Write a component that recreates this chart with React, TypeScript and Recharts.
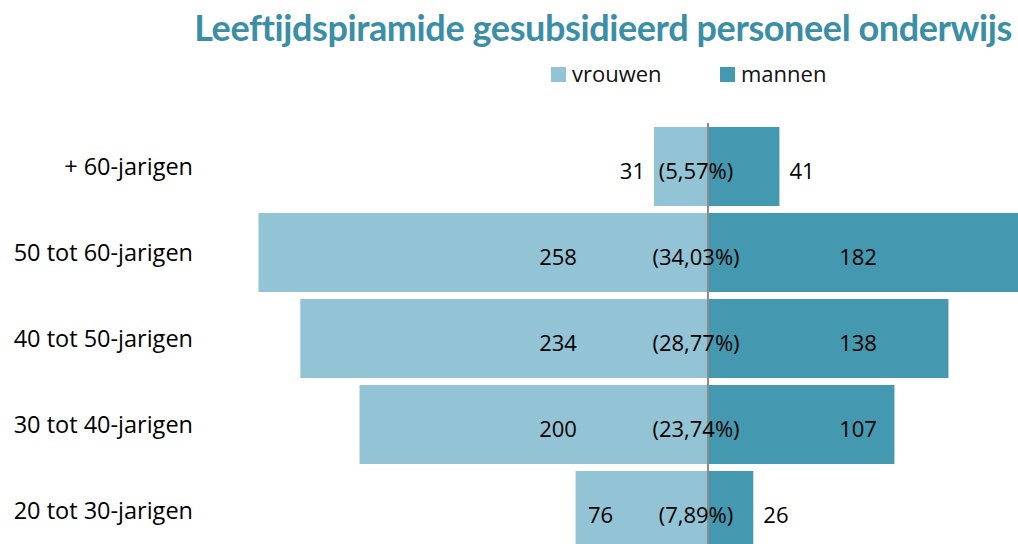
import { BarChart, Bar, XAxis, YAxis, ReferenceLine, LabelList } from "recharts";

const categories = [
  "+ 60-jarigen",
  "50 tot 60-jarigen",
  "40 tot 50-jarigen",
  "30 tot 40-jarigen",
  "20 tot 30-jarigen",
];
const vrouwen = [31, 258, 234, 200, 76];
const mannen = [41, 182, 138, 107, 26];

const series = [
  { key: "vrouwen", color: "#93C4D5" },
  { key: "mannen", color: "#4499B0" },
];

const total = [...vrouwen, ...mannen].reduce((a, b) => a + b, 0);

const data = categories.map((name, i) => ({
  name,
  vrouwen: -vrouwen[i],
  mannen: mannen[i],
  pct: "(" + (((vrouwen[i] + mannen[i]) / total) * 100).toFixed(2).replace(".", ",") + "%)",
}));

const FONT = "'Open Sans', sans-serif";

// value label: outside the bar when it is short, otherwise a bit in from the axis
const SideLabel = (props: any) => {
  const { x, y, width, height, value } = props;
  const left = Math.min(x, x + width);
  const right = Math.max(x, x + width);
  const w = right - left;
  const neg = value < 0;
  const ty = y + height / 2 + 12;
  let tx: number;
  let anchor: "start" | "end" | "middle" = "middle";
  if (w < 80) {
    tx = neg ? left - 9 : right + 10;
    anchor = neg ? "end" : "start";
  } else {
    const off = Math.min(w - 25, 150);
    tx = neg ? right - off : left + off;
  }
  return (
    <text x={tx} y={ty} textAnchor={anchor} fontFamily={FONT} fontSize={22} fill="#000">
      {Math.abs(value)}
    </text>
  );
};

const PctLabel = (props: any) => {
  const { x, y, width, height, value } = props;
  const axis = Math.min(x, x + width);
  return (
    <text x={axis - 12} y={y + height / 2 + 12} textAnchor="middle" fontFamily={FONT} fontSize={22} fill="#000">
      {value}
    </text>
  );
};

const CategoryTick = (props: any) => {
  const { x, y, payload } = props;
  return (
    <text x={x} y={y + 9} textAnchor="end" fontFamily={FONT} fontSize={23.5} fill="#000">
      {payload.value}
    </text>
  );
};

export default function App() {
  return (
    <div
      style={{
        position: "fixed",
        left: 0,
        top: 0,
        width: 1018,
        height: 544,
        overflow: "hidden",
        background: "#fff",
      }}
    >
      <BarChart
        width={1180}
        height={560}
        data={data}
        layout="vertical"
        stackOffset="sign"
        barSize={79}
        margin={{ top: 123, right: 19, bottom: 7, left: 0 }}
      >
        <XAxis type="number" domain={[-260, 260]} hide />
        <YAxis
          type="category"
          dataKey="name"
          width={255}
          axisLine={false}
          tickLine={false}
          tickSize={0}
          tickMargin={62}
          tick={<CategoryTick />}
        />
        <Bar dataKey="vrouwen" stackId="a" fill={series[0].color} isAnimationActive={false}>
          <LabelList dataKey="vrouwen" content={<SideLabel />} />
        </Bar>
        <Bar dataKey="mannen" stackId="a" fill={series[1].color} isAnimationActive={false}>
          <LabelList dataKey="mannen" content={<SideLabel />} />
          <LabelList dataKey="pct" content={<PctLabel />} />
        </Bar>
        <ReferenceLine x={0} stroke="#8c8c8c" strokeWidth={2} />
      </BarChart>

      <div
        style={{
          position: "absolute",
          right: 6,
          top: 5,
          whiteSpace: "nowrap",
          fontFamily: "Lato, sans-serif",
          fontWeight: 700,
          fontSize: 36,
          letterSpacing: -0.4,
          color: "#3A8EA5",
          lineHeight: "44px",
        }}
      >
        Leeftijdspiramide gesubsidieerd personeel onderwijs
      </div>

      <svg width={1018} height={100} style={{ position: "absolute", left: 0, top: 40 }}>
        {series.map((s, i) => (
          <g key={s.key}>
            <rect x={551 + i * 169} y={27} width={15} height={15} fill={s.color} />
            <text x={572 + i * 169} y={42} fontFamily={FONT} fontSize={22} fill="#111">
              {s.key}
            </text>
          </g>
        ))}
      </svg>
    </div>
  );
}
